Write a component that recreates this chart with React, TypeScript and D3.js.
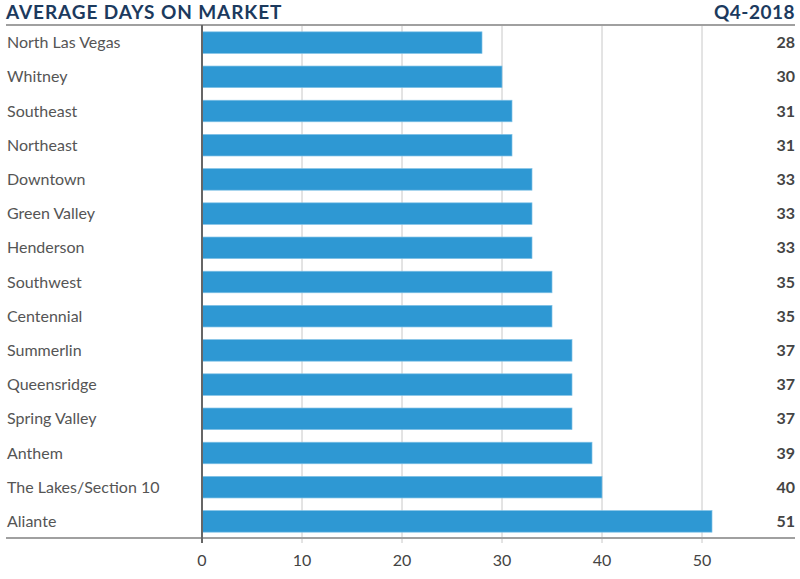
import React from "react";
import * as d3 from "d3";

const categories = ["North Las Vegas","Whitney","Southeast","Northeast","Downtown","Green Valley","Henderson","Southwest","Centennial","Summerlin","Queensridge","Spring Valley","Anthem","The Lakes/Section 10","Aliante"];
const values = [28,30,31,31,33,33,33,35,35,37,37,37,39,40,51];
const ticks = [0,10,20,30,40,50];
const title = "AVERAGE DAYS ON MARKET";
const period = "Q4-2018";

export default function App() {
  const W = 800, H = 579;
  const x = d3.scaleLinear().domain([0, 10]).range([202, 302]);
  const y = d3.scaleBand<string>().domain(categories).range([25, 539]).paddingInner(0.37).paddingOuter(0.2);
  const top = 25, bottom = 538;
  return (
    <svg width={W} height={H} style={{ position: "absolute", left: 0, top: 0, fontFamily: "Lato, 'Open Sans', sans-serif" }}>
      <text x={6} y={19} fontSize={19} fontWeight={700} fill="#1c3a5e" letterSpacing={0.9}>{title}</text>
      <text x={795} y={19} fontSize={19} fontWeight={700} fill="#1c3a5e" textAnchor="end" letterSpacing={0.5}>{period}</text>
      {ticks.slice(1).map(t => (
        <line key={t} x1={x(t)} x2={x(t)} y1={top} y2={bottom + 5} stroke="#c8c8c8" strokeWidth={1} />
      ))}
      {categories.map((c, i) => (
        <rect key={c} x={x(0)} y={y(c)!} width={x(values[i]) - x(0)} height={y.bandwidth()} fill="#2e98d3" stroke="#7fc1e6" strokeWidth={0.7} />
      ))}
      <line x1={6} x2={795} y1={top} y2={top} stroke="#a0a0a0" strokeWidth={2} />
      <line x1={6} x2={795} y1={bottom} y2={bottom} stroke="#a0a0a0" strokeWidth={2} />
      <line x1={x(0)} x2={x(0)} y1={top} y2={bottom + 5} stroke="#666" strokeWidth={2} />
      {categories.map((c, i) => (
        <g key={c + "l"}>
          <text x={7} y={y(c)! + y.bandwidth() / 2} dy="0.35em" fontSize={16} fill="#555">{c}</text>
          <text x={795} y={y(c)! + y.bandwidth() / 2} dy="0.35em" fontSize={16} fontWeight={700} fill="#444" textAnchor="end">{values[i]}</text>
        </g>
      ))}
      {ticks.map(t => (
        <text key={t} x={x(t)} y={560} dy="0.35em" fontSize={16} fill="#444" textAnchor="middle">{t}</text>
      ))}
    </svg>
  );
}
